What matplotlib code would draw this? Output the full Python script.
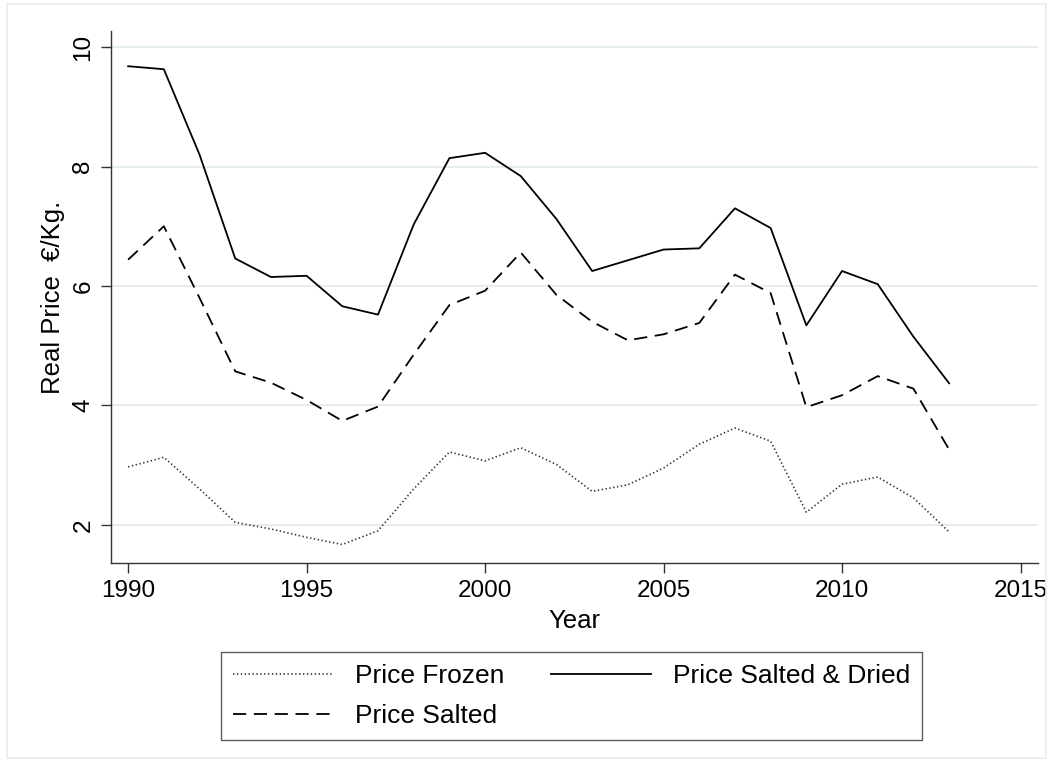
import matplotlib

matplotlib.use("Agg")

import matplotlib.pyplot as plt
from matplotlib.patches import Rectangle


OUT_PATH = "out.png"
DPI = 100
FIGSIZE = (10.53, 7.62)
FONT = "Liberation Sans"
TICK_SIZE = 17.5
LABEL_SIZE = 18.5
LEGEND_SIZE = 19
GRID_COLOR = "#e4ecee"
AXIS_COLOR = "#333333"

YEARS = list(range(1990, 2014))
PRICE_FROZEN = [2.97, 3.13, 2.60, 2.04, 1.93, 1.79, 1.67, 1.90, 2.60, 3.22, 3.07, 3.29,
                3.01, 2.56, 2.67, 2.95, 3.35, 3.62, 3.40, 2.21, 2.68, 2.80, 2.45, 1.88]
PRICE_SALTED = [6.44, 7.00, 5.80, 4.57, 4.38, 4.09, 3.74, 3.98, 4.85, 5.68, 5.92, 6.56,
                5.85, 5.40, 5.09, 5.19, 5.38, 6.19, 5.88, 3.97, 4.17, 4.49, 4.28, 3.26]
PRICE_DRIED = [9.68, 9.63, 8.20, 6.46, 6.15, 6.17, 5.66, 5.52, 7.03, 8.14, 8.23, 7.84,
               7.12, 6.25, 6.43, 6.61, 6.63, 7.30, 6.97, 5.34, 6.25, 6.03, 5.15, 4.37]
X_TICKS = [1990, 1995, 2000, 2005, 2010, 2015]
Y_TICKS = [2, 4, 6, 8, 10]


def main():
    plt.rcParams["font.family"] = [FONT, "DejaVu Sans"]
    plt.rcParams["lines.scale_dashes"] = False

    fig = plt.figure(figsize=FIGSIZE, dpi=DPI)
    W, H = 1053, 762
    ax = fig.add_axes([111 / W, 1 - 563 / H, 927 / W, 532 / H])

    # faint outer frame of the graph region
    fig.patches.append(Rectangle((7 / W, 4 / H), 1039 / W, 754 / H, transform=fig.transFigure,
                                 fill=False, edgecolor="#e6edef", lw=1.2))

    for y in Y_TICKS:
        ax.axhline(y, color=GRID_COLOR, lw=1.3, zorder=0)

    ax.plot(YEARS, PRICE_FROZEN, color="#333333", lw=1.2, dashes=(1.0, 1.8),
            label="Price Frozen")
    ax.plot(YEARS, PRICE_SALTED, color="black", lw=1.3, dashes=(9.5, 5.5),
            label="Price Salted")
    ax.plot(YEARS, PRICE_DRIED, color="black", lw=1.3, label="Price Salted & Dried")

    ax.set_xlim(1989.52, 2015.49)
    ax.set_ylim(1.36, 10.27)
    ax.set_xticks(X_TICKS)
    ax.set_yticks(Y_TICKS)
    ax.set_yticklabels([str(v) for v in Y_TICKS], rotation=90, va="center")
    ax.tick_params(length=7, width=1.0, color=AXIS_COLOR, labelsize=TICK_SIZE, pad=5)

    for side in ("top", "right"):
        ax.spines[side].set_visible(False)
    for side in ("left", "bottom"):
        ax.spines[side].set_color(AXIS_COLOR)
        ax.spines[side].set_linewidth(1.0)

    ax.set_xlabel("Year", fontsize=LABEL_SIZE, labelpad=5)
    ax.set_ylabel("Real Price  \u20ac/Kg.", fontsize=LABEL_SIZE, labelpad=5)

    leg = fig.legend(loc="upper center", bbox_to_anchor=(571.5 / W, 1 - 652 / H), ncol=2,
                     fontsize=LEGEND_SIZE, frameon=True, fancybox=False, handlelength=3.8,
                     handletextpad=0.83, columnspacing=1.78, borderpad=0.45,
                     labelspacing=0.62, borderaxespad=0)
    leg.get_frame().set_edgecolor(AXIS_COLOR)
    leg.get_frame().set_linewidth(1.0)

    fig.savefig(OUT_PATH, dpi=DPI)
    plt.close(fig)


if __name__ == "__main__":
    main()
